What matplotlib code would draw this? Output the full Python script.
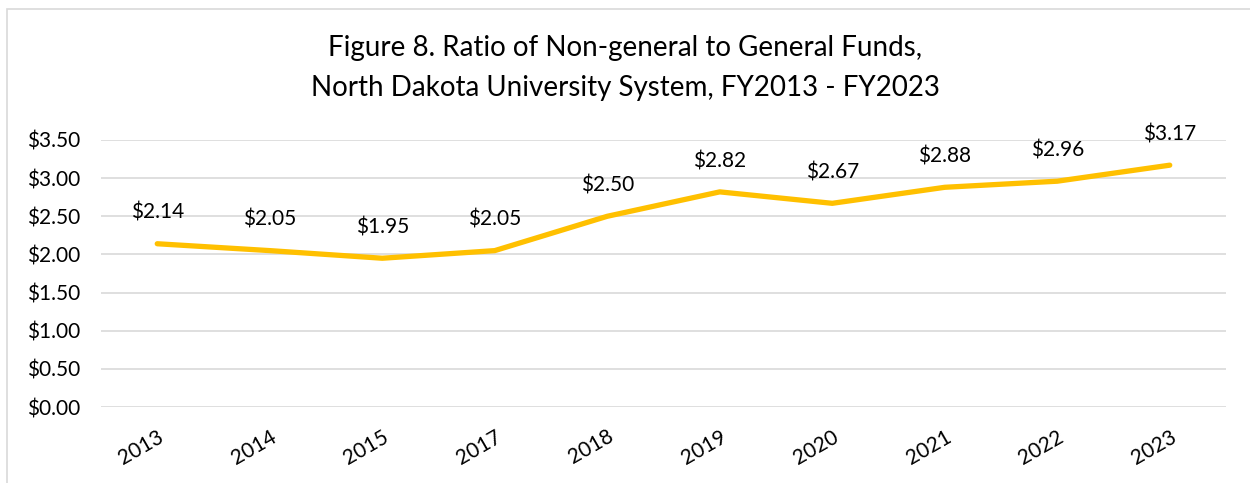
import matplotlib
matplotlib.use("Agg")
import matplotlib.pyplot as plt
from matplotlib.patches import Rectangle

years = ["2013", "2014", "2015", "2017", "2018", "2019", "2020", "2021", "2022", "2023"]
ratios = [2.14, 2.05, 1.95, 2.05, 2.50, 2.82, 2.67, 2.88, 2.96, 3.17]
y_ticks = [0.0, 0.5, 1.0, 1.5, 2.0, 2.5, 3.0, 3.5]
title_lines = ["Figure 8. Ratio of Non-general to General Funds,",
               "North Dakota University System, FY2013 - FY2023"]

plt.rcParams['font.family'] = ['Lato', 'DejaVu Sans']

fig = plt.figure(figsize=(12.5, 4.83), dpi=100)
fig.patches.append(Rectangle((7/1250, -0.1), 1.2, 1 - 9/483 + 0.1, transform=fig.transFigure,
                             fill=False, edgecolor='#D9D9D9', linewidth=1.2))
ax = fig.add_axes([101/1250, 1 - 407/483, 1125/1250, 267/483])

x = list(range(len(years)))
ax.plot(x, ratios, color='#FFC000', linewidth=3.8, solid_capstyle='round', solid_joinstyle='round', zorder=3)
for xi, v in zip(x, ratios):
    ax.annotate(f"${v:.2f}", (xi, v), xytext=(0, 15), textcoords='offset points',
                ha='center', va='bottom', fontsize=15, color='#000000')

ax.set_xlim(-0.5, len(years) - 0.5)
ax.set_ylim(0, 3.5)
ax.set_yticks(y_ticks)
ax.set_yticklabels([f"${t:.2f}" for t in y_ticks], fontsize=15)
ax.set_xticks(x)
ax.set_xticklabels(years, fontsize=15, rotation=30, ha='right', rotation_mode='anchor')
ax.tick_params(axis='both', length=0)
ax.tick_params(axis='y', pad=15)
ax.tick_params(axis='x', pad=14)
ax.grid(axis='y', color='#D9D9D9', linewidth=1.2)
ax.set_axisbelow(True)
for s in ax.spines.values():
    s.set_visible(False)

for i, line in enumerate(title_lines):
    fig.text(0.5, 1 - (48 + 40 * i) / 483, line, ha='center', va='center', fontsize=20)

fig.savefig("out.png", dpi=100)
